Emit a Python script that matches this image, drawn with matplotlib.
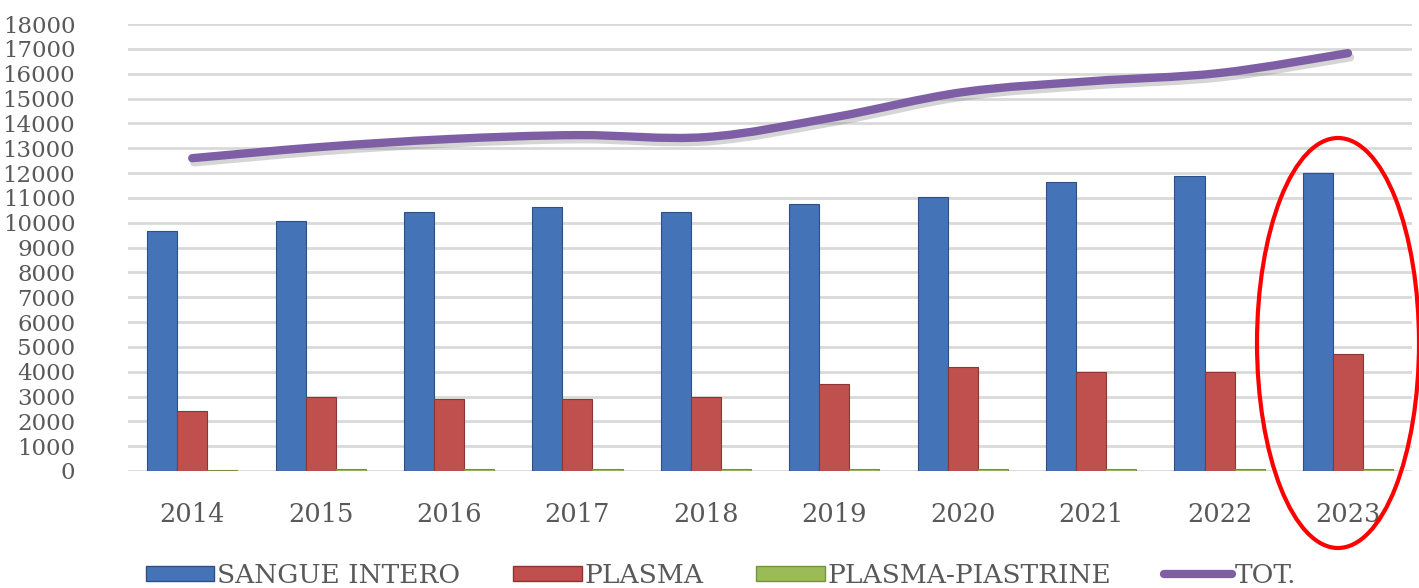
import numpy as np
import matplotlib
matplotlib.use("Agg")
import matplotlib.pyplot as plt
from matplotlib.path import Path
from matplotlib.patches import PathPatch, Ellipse, Patch
from matplotlib.lines import Line2D
import matplotlib.patheffects as pe

years = ["2014", "2015", "2016", "2017", "2018", "2019", "2020", "2021", "2022", "2023"]
sangue_intero = [9650, 10050, 10450, 10650, 10450, 10750, 11050, 11650, 11900, 12000]
plasma = [2400, 3000, 2900, 2900, 3000, 3500, 4200, 4000, 4000, 4700]
plasma_piastrine = [30, 100, 100, 100, 100, 100, 100, 100, 100, 100]
totale = [12600, 13050, 13370, 13530, 13450, 14250, 15260, 15700, 16030, 16830]
y_ticks = list(range(0, 18001, 1000))

blue = "#4573B8"
red = "#C0504D"
green = "#9BBB59"
purple = "#7E5FA6"
grey_txt = "#595959"

fig = plt.figure(figsize=(14.19, 5.88), dpi=100)
ax = fig.add_axes([0.0902, 0.199, 0.905, 0.760])

x = np.arange(len(years))
w = 0.234
ax.bar(x - w, sangue_intero, w, color=blue, edgecolor="#2C4F85", linewidth=0.8, zorder=3)
ax.bar(x, plasma, w, color=red, edgecolor="#8C3533", linewidth=0.8, zorder=3)
ax.bar(x + w, plasma_piastrine, w, color=green, edgecolor="#76923C", linewidth=0.8, zorder=3)

# smoothed total line (Catmull-Rom -> Bezier)
pts = np.column_stack([x, totale]).astype(float)
verts = [tuple(pts[0])]
codes = [Path.MOVETO]
for i in range(len(pts) - 1):
    p0 = pts[i - 1] if i > 0 else pts[i]
    p1 = pts[i]
    p2 = pts[i + 1]
    p3 = pts[i + 2] if i + 2 < len(pts) else pts[i + 1]
    c1 = p1 + (p2 - p0) / 6
    c2 = p2 - (p3 - p1) / 6
    verts += [tuple(c1), tuple(c2), tuple(p2)]
    codes += [Path.CURVE4] * 3
line = PathPatch(Path(verts, codes), fill=False, edgecolor=purple, linewidth=6,
                 capstyle="round", joinstyle="round", zorder=4)
line.set_path_effects([pe.SimpleLineShadow(offset=(1.5, -3), shadow_color="#888888", alpha=0.35),
                       pe.Normal()])
ax.add_patch(line)

ax.set_xlim(-0.5, len(years) - 0.5)
ax.set_ylim(0, 18000)
ax.set_yticks(y_ticks)
ax.set_yticklabels([str(v) for v in y_ticks])
ax.set_xticks(x)
ax.set_xticklabels(years)
ax.grid(axis="y", color="#D9D9D9", linewidth=2, zorder=0)
ax.set_axisbelow(True)
for s in ax.spines.values():
    s.set_visible(False)
ax.tick_params(axis="both", length=0, colors=grey_txt)
ax.tick_params(axis="y", pad=38, labelsize=16.5)
ax.tick_params(axis="x", pad=22, labelsize=18.5)
for lab in ax.get_xticklabels() + ax.get_yticklabels():
    lab.set_family("DejaVu Serif")
    lab.set_color(grey_txt)

handles = [
    Patch(facecolor=blue, edgecolor="#2C4F85"),
    Patch(facecolor=red, edgecolor="#8C3533"),
    Patch(facecolor=green, edgecolor="#76923C"),
    Line2D([0], [0], color=purple, linewidth=6, solid_capstyle="round"),
]
labels = ["SANGUE INTERO", "PLASMA", "PLASMA-PIASTRINE", "TOT."]
leg = fig.legend(handles, labels, loc="lower left", bbox_to_anchor=(0.086, -0.04), ncol=4,
                 frameon=False, handlelength=2.6, handleheight=0.5, handletextpad=0.1,
                 columnspacing=2.0, prop={"family": "DejaVu Serif", "size": 19})
for t in leg.get_texts():
    t.set_color(grey_txt)

# red highlight ellipse around 2023
fig.add_artist(Ellipse((1338 / 1419, 1 - 343 / 588), 162 / 1419, 410 / 588,
                       transform=fig.transFigure, fill=False, edgecolor="#FF0000", linewidth=3,
                       clip_on=False, zorder=10))

fig.savefig("out.png", dpi=100)
